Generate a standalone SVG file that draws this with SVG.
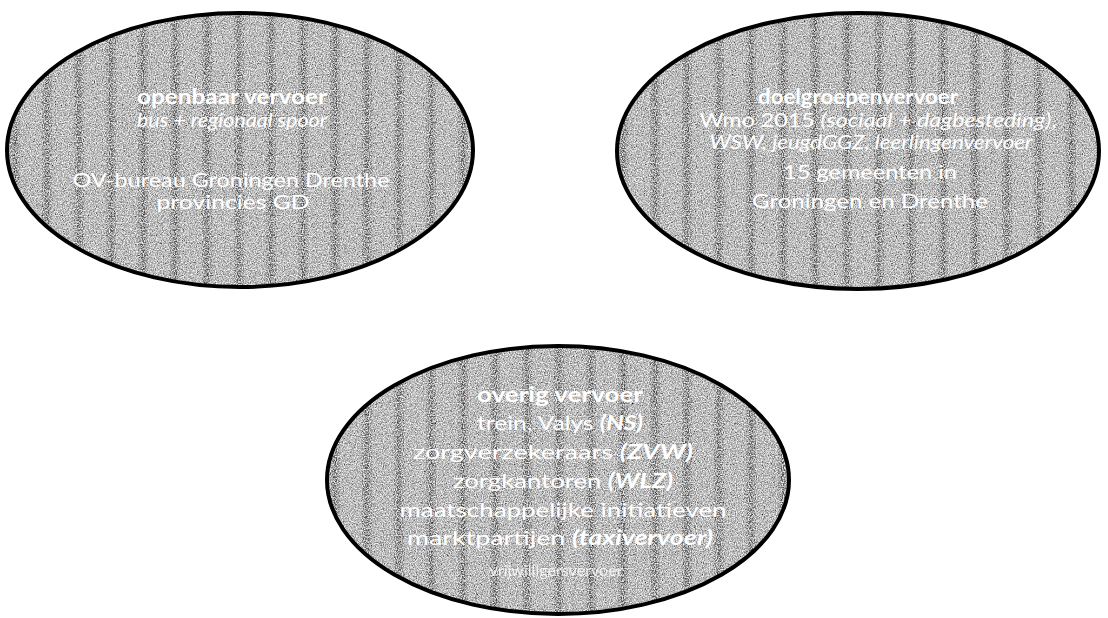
<svg xmlns="http://www.w3.org/2000/svg" width="1108" height="618" viewBox="0 0 1108 618">
  <defs>
    <pattern id="stripes" width="32" height="16" patternUnits="userSpaceOnUse">
      <rect width="32" height="16" fill="#acacac"/>
      <rect x="10" width="3" height="16" fill="#8a8a8a"/>
      <rect x="13" width="4" height="16" fill="#666666"/>
      <rect x="17" width="3" height="16" fill="#8a8a8a"/>
    </pattern>
    <filter id="grain" x="0" y="0" width="100%" height="100%">
      <feTurbulence type="fractalNoise" baseFrequency="0.9" numOctaves="2" seed="4" result="n"/>
      <feColorMatrix in="n" type="matrix" values="0 0 0 0 0  0 0 0 0 0  0 0 0 0 0  0 0 0 2.2 -0.95" result="dark"/>
      <feComposite in="dark" in2="SourceGraphic" operator="in" result="d2"/>
      <feTurbulence type="fractalNoise" baseFrequency="0.85" numOctaves="2" seed="11" result="n2"/>
      <feColorMatrix in="n2" type="matrix" values="0 0 0 0 1  0 0 0 0 1  0 0 0 0 1  0 0 0 2.4 -0.95" result="light"/>
      <feComposite in="light" in2="SourceGraphic" operator="in" result="l2"/>
      <feMerge><feMergeNode in="SourceGraphic"/><feMergeNode in="d2"/><feMergeNode in="l2"/></feMerge>
    </filter>
  </defs>
  <style>
    .fill { fill: url(#stripes); filter: url(#grain); }
    .edge { fill: none; stroke: #000; stroke-width: 4; }
    text { font-family: Lato, "Open Sans", "Liberation Sans", sans-serif; fill: #ffffff; text-anchor: middle; }
    .t { font-weight: bold; font-size: 21px; }
    .s { font-size: 20px; }
    .i { font-style: italic; }
    .n { font-size: 16px; opacity: 0.8; }
  </style>
  <rect width="1108" height="618" fill="#ffffff"/>

  <g id="openbaar-vervoer">
    <ellipse class="fill" cx="240" cy="150" rx="233" ry="137"/>
    <ellipse class="edge" cx="240" cy="150" rx="233" ry="137"/>
    <text class="t" x="232" y="104" textLength="190" lengthAdjust="spacingAndGlyphs">openbaar vervoer</text>
    <text class="s i" x="232" y="127" textLength="190" lengthAdjust="spacingAndGlyphs">bus + regionaal spoor</text>
    <text class="s" x="231" y="187" textLength="317" lengthAdjust="spacingAndGlyphs">OV-bureau Groningen Drenthe</text>
    <text class="s" x="233" y="209" textLength="153" lengthAdjust="spacingAndGlyphs">provincies GD</text>
  </g>

  <g id="doelgroepenvervoer">
    <ellipse class="fill" cx="858" cy="151" rx="241" ry="138"/>
    <ellipse class="edge" cx="858" cy="151" rx="241" ry="138"/>
    <text class="t" x="858" y="104" textLength="200" lengthAdjust="spacingAndGlyphs">doelgroepenvervoer</text>
    <text class="s" x="878" y="127" textLength="357" lengthAdjust="spacingAndGlyphs">Wmo 2015 <tspan class="i">(sociaal + dagbesteding)</tspan>,</text>
    <text class="s i" x="871" y="149" textLength="323" lengthAdjust="spacingAndGlyphs">WSW, jeugdGGZ, leerlingenvervoer</text>
    <text class="s" x="870" y="179" textLength="174" lengthAdjust="spacingAndGlyphs">15 gemeenten in</text>
    <text class="s" x="870" y="208" textLength="236" lengthAdjust="spacingAndGlyphs">Groningen en Drenthe</text>
  </g>

  <g id="overig-vervoer">
    <ellipse class="fill" cx="558" cy="480" rx="231" ry="134"/>
    <ellipse class="edge" cx="558" cy="480" rx="231" ry="134"/>
    <text class="t" x="560" y="402" textLength="166" lengthAdjust="spacingAndGlyphs">overig vervoer</text>
    <text class="s" x="560" y="430" textLength="166" lengthAdjust="spacingAndGlyphs">trein, Valys <tspan class="i" font-weight="bold">(NS)</tspan></text>
    <text class="s" x="553" y="459" textLength="280" lengthAdjust="spacingAndGlyphs">zorgverzekeraars <tspan class="i" font-weight="bold">(ZVW)</tspan></text>
    <text class="s" x="563" y="488" textLength="220" lengthAdjust="spacingAndGlyphs">zorgkantoren <tspan class="i" font-weight="bold">(WLZ)</tspan></text>
    <text class="s" x="563" y="517" textLength="327" lengthAdjust="spacingAndGlyphs">maatschappelijke initiatieven</text>
    <text class="s" x="560" y="545" textLength="306" lengthAdjust="spacingAndGlyphs">marktpartijen <tspan class="i" font-weight="bold">(taxivervoer)</tspan></text>
    <text class="n" x="556" y="576" textLength="133" lengthAdjust="spacingAndGlyphs">vrijwilligersvervoer</text>
  </g>

  <g id="connectors"></g>
</svg>
